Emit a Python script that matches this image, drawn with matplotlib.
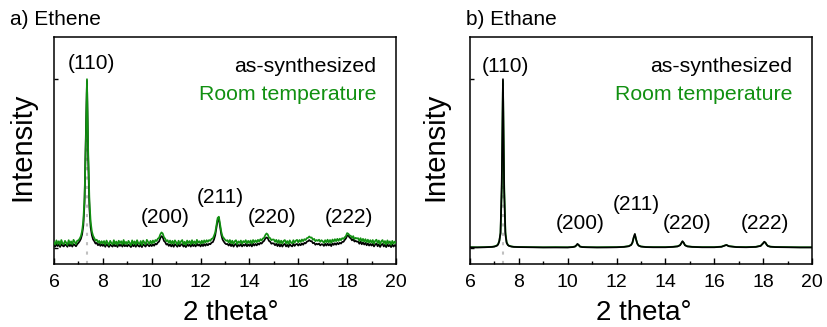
import numpy as np
from matplotlib import pyplot as plt

plt.rcParams['font.family'] = ['Liberation Sans', 'DejaVu Sans']

GREEN = '#119011'

# ethene scan, 2 theta from 6 to 20 deg, step 0.05 (intensity x 1000, normalised)
ethene_x = np.round(np.arange(6.0, 20.0001, 0.05), 2)
ethene_rt = [
    34, 20, 45, 24, 40, 18, 47, 28, 22, 42, 31, 17, 46, 26, 39, 21, 48, 35, 23, 43,
    45, 55, 70, 100, 160, 300, 610, 1000, 570, 280, 155, 98, 72, 58, 44, 49, 33, 42, 26, 40,
    27, 41, 19, 44, 30, 17, 42, 29, 21, 46, 24, 38, 18, 43, 28, 40, 20, 47, 25, 36,
    22, 42, 30, 16, 45, 25, 39, 19, 46, 29, 23, 41, 17, 44, 32, 21, 48, 36, 24, 42,
    26, 44, 30, 47, 41, 55, 60, 80, 92, 86, 64, 55, 40, 46, 30, 44, 26, 42, 24, 45,
    34, 19, 43, 24, 39, 47, 22, 37, 18, 44, 29, 41, 21, 46, 27, 39, 23, 48, 31, 40,
    25, 43, 28, 45, 32, 46, 36, 47, 42, 54, 56, 72, 92, 135, 178, 185, 140, 95, 68, 58,
    49, 42, 46, 32, 47, 28, 43, 24, 40, 46, 22, 39, 30, 44, 25, 41, 33, 46, 27, 42,
    30, 44, 26, 47, 33, 45, 34, 48, 38, 52, 44, 56, 60, 76, 86, 80, 62, 58, 46, 50,
    50, 36, 48, 30, 46, 28, 43, 26, 42, 47, 27, 41, 24, 45, 33, 27, 46, 31, 43, 48,
    33, 47, 36, 50, 40, 52, 47, 58, 60, 68, 61, 62, 48, 54, 40, 47, 42, 49, 36, 46,
    40, 30, 46, 34, 49, 33, 47, 31, 50, 38, 52, 40, 54, 42, 55, 46, 58, 54, 63, 70,
    88, 84, 74, 72, 60, 70, 52, 60, 56, 58, 42, 58, 40, 54, 38, 52, 34, 49, 32, 46,
    31, 47, 26, 42, 49, 29, 44, 22, 40, 47, 27, 41, 20, 45, 28, 39, 19, 42, 25, 38,
    30]
ethene_as = [
    19, 8, 24, 11, 20, 6, 23, 14, 9, 21, 16, 7, 24, 11, 20, 8, 23, 17, 10, 22,
    30, 40, 54, 80, 132, 265, 645, 990, 525, 235, 122, 76, 50, 40, 26, 30, 16, 25, 12, 22,
    12, 21, 7, 23, 14, 6, 20, 13, 8, 23, 10, 18, 6, 22, 12, 20, 8, 24, 10, 18,
    9, 20, 13, 5, 22, 10, 19, 7, 24, 12, 8, 21, 5, 22, 15, 8, 24, 17, 10, 20,
    11, 22, 13, 25, 21, 32, 38, 58, 70, 64, 42, 35, 20, 24, 12, 22, 9, 21, 7, 23,
    16, 7, 21, 10, 19, 23, 8, 17, 5, 22, 12, 20, 8, 24, 11, 19, 9, 25, 14, 20,
    9, 22, 11, 23, 13, 24, 16, 25, 22, 32, 34, 50, 75, 120, 165, 172, 125, 78, 50, 38,
    28, 22, 24, 14, 25, 11, 22, 8, 19, 24, 7, 18, 12, 23, 9, 20, 13, 24, 10, 21,
    12, 23, 9, 25, 14, 24, 15, 27, 20, 30, 26, 36, 42, 56, 62, 58, 42, 37, 25, 28,
    26, 16, 25, 11, 23, 9, 21, 8, 20, 24, 9, 19, 6, 23, 14, 9, 24, 12, 21, 24,
    14, 24, 16, 27, 19, 30, 27, 37, 40, 47, 40, 40, 28, 31, 19, 25, 21, 26, 15, 22,
    21, 12, 25, 14, 26, 15, 24, 11, 27, 18, 28, 19, 30, 22, 31, 26, 36, 36, 47, 56,
    72, 75, 62, 57, 45, 53, 38, 42, 37, 38, 25, 37, 22, 33, 20, 30, 16, 27, 14, 24,
    14, 24, 9, 20, 26, 10, 22, 6, 19, 24, 9, 19, 5, 22, 10, 18, 5, 20, 8, 17,
    12]

# ethane scan (smooth), read at selected 2 theta points
ethane_x = [6.0, 6.3, 6.6, 6.9, 7.0, 7.1, 7.15, 7.2, 7.25, 7.3, 7.35, 7.4, 7.45, 7.5,
            7.55, 7.6, 7.7, 7.8, 8.0, 8.5, 9.0, 9.5, 10.0, 10.2, 10.3, 10.35, 10.4,
            10.45, 10.5, 10.6, 10.8, 11.2, 11.6, 12.0, 12.3, 12.5, 12.6, 12.65, 12.7,
            12.75, 12.8, 12.85, 12.9, 13.0, 13.2, 13.5, 14.0, 14.3, 14.5, 14.6, 14.65,
            14.7, 14.75, 14.8, 14.9, 15.1, 15.5, 16.0, 16.3, 16.45, 16.5, 16.6, 16.9,
            17.3, 17.7, 17.9, 18.0, 18.05, 18.1, 18.15, 18.2, 18.3, 18.5, 19.0, 19.5, 20.0]
ethane_as = [3, 3, 4, 6, 8, 13, 20, 40, 90, 380, 1000, 330, 80, 30,
             17, 12, 8, 6, 5, 4, 3, 3, 3, 5, 8, 15, 24,
             18, 8, 5, 4, 3, 3, 4, 6, 10, 18, 32, 62,
             83, 50, 25, 14, 8, 5, 4, 4, 6, 9, 16, 28,
             40, 30, 16, 9, 6, 4, 4, 7, 15, 18, 10, 5,
             4, 6, 12, 28, 37, 30, 18, 11, 7, 5, 4, 3, 3]
ethane_rt = [5, 4, 5, 7, 9, 15, 22, 42, 85, 340, 990, 380, 95, 35,
             19, 13, 9, 7, 6, 5, 4, 5, 4, 6, 9, 14, 22,
             17, 9, 6, 5, 4, 5, 5, 7, 11, 19, 30, 58,
             80, 52, 27, 15, 9, 6, 5, 5, 7, 10, 17, 27,
             38, 31, 17, 10, 7, 5, 5, 8, 16, 17, 11, 6,
             5, 7, 13, 27, 35, 31, 19, 12, 8, 6, 5, 4, 4]

hkl = ["(110)", "(200)", "(211)", "(220)", "(222)"]
ethene_label_pos = [(7.54, 1.095), (10.57, 0.18), (12.82, 0.30), (14.91, 0.18), (18.09, 0.18)]
ethane_label_pos = [(7.47, 1.073), (10.53, 0.145), (12.80, 0.26), (14.87, 0.145), (18.08, 0.145)]


def panel(ax, x, y_as, y_rt, labels_pos, green_on_top):
    ax.vlines(7.35, -0.095, 1.0, colors='#c0c0c0', linestyles=(0, (1.5, 3)), lw=1.5, zorder=1)
    z_as, z_rt = (2, 3) if green_on_top else (3, 2)
    ax.plot(x, np.array(y_as) / 1000, color='black', lw=1.25, zorder=z_as)
    ax.plot(x, np.array(y_rt) / 1000, color=GREEN, lw=1.25, zorder=z_rt)
    ax.set_xlim(6, 20)
    ax.set_ylim(-0.095, 1.25)
    ax.set_xticks(range(6, 21, 2))
    ax.set_xticks(range(7, 20, 2), minor=True)
    ax.set_yticks([0, 1])
    ax.set_yticklabels([])
    ax.tick_params(axis='x', which='major', direction='in', length=4, width=1, labelsize=14, pad=7)
    ax.tick_params(axis='x', which='minor', direction='in', length=2.5, width=1)
    ax.tick_params(axis='y', direction='in', length=3, width=1)
    for s in ax.spines.values():
        s.set_linewidth(1.1)
    for lab, (lx, ly) in zip(hkl, labels_pos):
        ax.text(lx, ly, lab, ha='center', va='center', fontsize=15)
    ax.text(19.2, 1.073, "as-synthesized", ha='right', va='center', fontsize=15.3, color='black')
    ax.text(19.2, 0.912, "Room temperature", ha='right', va='center', fontsize=15.3, color=GREEN)


fig = plt.figure(figsize=(8.27, 3.27), dpi=100)
ax1 = fig.add_axes([0.0653, 0.1927, 0.4135, 0.6942])
ax2 = fig.add_axes([0.5683, 0.1927, 0.4135, 0.6942])

panel(ax1, ethene_x, ethene_as, ethene_rt, ethene_label_pos, True)
panel(ax2, ethane_x, ethane_as, ethane_rt, ethane_label_pos, False)

fig.text(0.012, 0.939, "a) Ethene", fontsize=15, va='center', ha='left')
fig.text(0.564, 0.939, "b) Ethane", fontsize=15, va='center', ha='left')
fig.text(0.027, 0.55, "Intensity", fontsize=21, rotation=90, va='center', ha='center')
fig.text(0.526, 0.55, "Intensity", fontsize=21, rotation=90, va='center', ha='center')
fig.text(0.279, 0.043, "2 theta°", fontsize=20, va='center', ha='center')
fig.text(0.779, 0.043, "2 theta°", fontsize=20, va='center', ha='center')

fig.savefig("out.png", dpi=100)
